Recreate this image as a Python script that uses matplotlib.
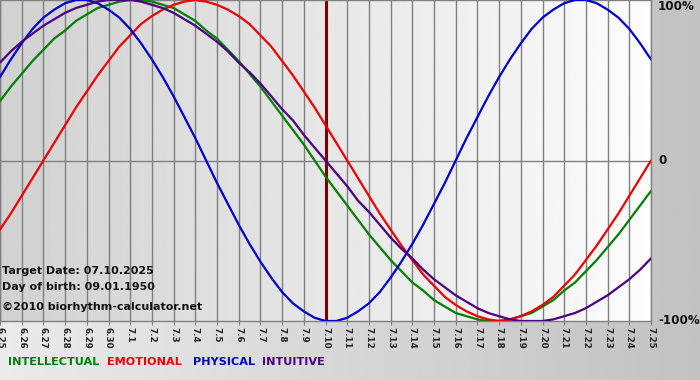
import numpy as np
import matplotlib
matplotlib.use("Agg")
import matplotlib.pyplot as plt

# days shown on the x axis (month.day)
days = ["6.25", "6.26", "6.27", "6.28", "6.29", "6.30"] + ["7.%d" % d for d in range(1, 26)]
target_idx = 15  # 7.10
step = 0.5

# rhythm values (-1 .. 1), every half day from 6.25 to 7.25
physical = [0.52, 0.63, 0.73, 0.82, 0.89, 0.94, 0.98, 1.00, 1.00, 0.98,
            0.94, 0.89, 0.82, 0.73, 0.63, 0.52, 0.40, 0.27, 0.14, 0.00,
            -0.14, -0.27, -0.40, -0.52, -0.63, -0.73, -0.82, -0.89, -0.94, -0.98,
            -1.00, -1.00, -0.98, -0.94, -0.89, -0.82, -0.73, -0.63, -0.52, -0.40,
            -0.27, -0.14, 0.00, 0.14, 0.27, 0.40, 0.52, 0.63, 0.73, 0.82,
            0.89, 0.94, 0.98, 1.00, 1.00, 0.98, 0.94, 0.89, 0.82, 0.73, 0.63]
emotional = [-0.43, -0.33, -0.22, -0.11, 0.00, 0.11, 0.22, 0.33, 0.43, 0.53,
             0.62, 0.71, 0.78, 0.85, 0.90, 0.94, 0.97, 0.99, 1.00, 0.99,
             0.97, 0.94, 0.90, 0.85, 0.78, 0.71, 0.62, 0.53, 0.43, 0.33,
             0.22, 0.11, 0.00, -0.11, -0.22, -0.33, -0.43, -0.53, -0.62, -0.71,
             -0.78, -0.85, -0.90, -0.94, -0.97, -0.99, -1.00, -0.99, -0.97, -0.94,
             -0.90, -0.85, -0.78, -0.71, -0.62, -0.53, -0.43, -0.33, -0.22, -0.11, 0.00]
intellectual = [0.37, 0.46, 0.54, 0.62, 0.69, 0.76, 0.81, 0.87, 0.91, 0.95,
                0.97, 0.99, 1.00, 1.00, 0.99, 0.97, 0.95, 0.91, 0.87, 0.81,
                0.76, 0.69, 0.62, 0.54, 0.46, 0.37, 0.28, 0.19, 0.10, 0.00,
                -0.10, -0.19, -0.28, -0.37, -0.46, -0.54, -0.62, -0.69, -0.76, -0.81,
                -0.87, -0.91, -0.95, -0.97, -0.99, -1.00, -1.00, -0.99, -0.97, -0.95,
                -0.91, -0.87, -0.81, -0.76, -0.69, -0.62, -0.54, -0.46, -0.37, -0.28, -0.19]
intuitive = [0.61, 0.68, 0.74, 0.79, 0.84, 0.88, 0.92, 0.95, 0.97, 0.99,
             1.00, 1.00, 1.00, 0.99, 0.97, 0.95, 0.92, 0.88, 0.84, 0.79,
             0.74, 0.68, 0.61, 0.55, 0.48, 0.40, 0.32, 0.25, 0.16, 0.08,
             0.00, -0.08, -0.16, -0.25, -0.32, -0.40, -0.48, -0.55, -0.61, -0.68,
             -0.74, -0.79, -0.84, -0.88, -0.92, -0.95, -0.97, -0.99, -1.00, -1.00,
             -1.00, -0.99, -0.97, -0.95, -0.92, -0.88, -0.84, -0.79, -0.74, -0.68, -0.61]

series = [("INTELLECTUAL", intellectual, "#008000"),
          ("EMOTIONAL", emotional, "#ee0000"),
          ("PHYSICAL", physical, "#0000cc"),
          ("INTUITIVE", intuitive, "#4b0082")]

W, H = 700, 380
fig = plt.figure(figsize=(7, 3.8), dpi=100)

# outer background: light grey on the left, darker on the right
bg = fig.add_axes([0, 0, 1, 1], zorder=-5)
grad = np.linspace(0.92, 0.76, 256).reshape(1, -1)
bg.imshow(grad, cmap="gray", vmin=0, vmax=1, aspect="auto", extent=[0, 1, 0, 1])
bg.set_xlim(0, 1)
bg.set_ylim(0, 1)
bg.axis("off")

ax = fig.add_axes([0, 59 / H, 651 / W, 321 / H])
n = len(days)
x = np.arange(n)
xs = np.arange(len(physical)) * step

# plot background gradient grey -> white
pgrad = np.linspace(0.82, 0.99, 256).reshape(1, -1)
ax.imshow(pgrad, cmap="gray", vmin=0, vmax=1, aspect="auto",
          extent=[0, n - 1, -1.0, 1.0], zorder=0)

for xi in x:
    ax.axvline(xi, color="#808080", lw=1, zorder=1)
ax.axhline(0, color="#808080", lw=1, zorder=1)
ax.axvline(target_idx, color="#7a0000", lw=2.2, zorder=2)

for name, vals, col in series:
    ax.plot(xs, vals, color=col, lw=1.6, zorder=3, solid_capstyle="round")

ax.set_xlim(0, n - 1)
ax.set_ylim(-1.0, 1.0)
ax.set_yticks([])
ax.set_xticks(x)
ax.set_xticklabels(days, rotation=270, fontsize=6.3, fontweight="bold", color="#222222")
ax.tick_params(axis="x", length=3, color="#808080", pad=1)
for s in ax.spines.values():
    s.set_color("#808080")
    s.set_linewidth(1)

# right-side scale labels
bold = dict(fontweight="bold", fontsize=8.6, color="#111111", ha="left", va="center")
fig.text(658 / W, 1 - 7 / H, "100%", **bold)
fig.text(658 / W, 1 - 161 / H, "0", **bold)
fig.text(658 / W, 1 - 321 / H, "-100%", **bold)

info = dict(fontweight="bold", fontsize=8.0, color="#111111", ha="left", va="center")
fig.text(2 / W, 1 - 271 / H, "Target Date: 07.10.2025", **info)
fig.text(2 / W, 1 - 287 / H, "Day of birth: 09.01.1950", **info)
fig.text(2 / W, 1 - 307 / H, "\u00a92010 biorhythm-calculator.net", **info)

leg_x = [8, 107, 193, 262]
for (name, vals, col), lx in zip(series, leg_x):
    fig.text(lx / W, 1 - 362 / H, name, color=col, fontweight="bold",
             fontsize=8.1, ha="left", va="center")

fig.savefig("out.png", dpi=100)
